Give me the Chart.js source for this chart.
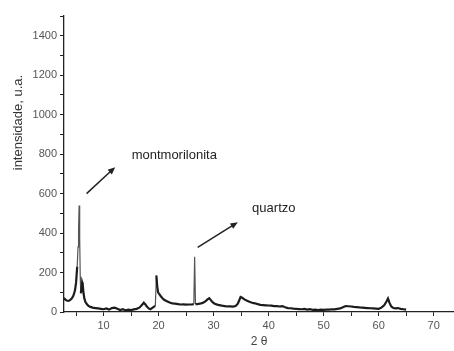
<!DOCTYPE html>
<html lang="pt">
<head>
    <meta charset="UTF-8">
    <title>DRX</title>
    <style>
        html, body { margin: 0; padding: 0; background: #fff; }
        #wrap { width: 454px; height: 351px; position: relative; }
    </style>
</head>
<body>
    <div id="wrap">
        <canvas id="myChart"></canvas>
    </div>

    <script src="https://cdn.jsdelivr.net/npm/chart.js"></script>

    <script>
        // 2 theta (graus) e intensidade
        let twoTheta = [
            2.8, 3.0, 3.3, 3.6, 3.9, 4.2, 4.5, 4.8, 5.0, 5.2, 5.35, 5.45, 5.55, 5.65, 5.75, 5.85, 5.95, 6.1, 6.2, 6.35,
            6.5, 6.7, 7.0, 7.3, 7.6, 8.0, 8.5, 9.0, 9.5, 10.0, 10.5, 11.0, 11.5, 12.0, 12.5, 13.0, 13.5, 14.0, 14.5, 15.0,
            15.5, 16.0, 16.5, 17.0, 17.3, 17.6, 17.9, 18.2, 18.5, 18.8, 19.1, 19.4, 19.6, 19.75, 19.9, 20.1, 20.4, 20.7, 21.0, 21.5,
            22.0, 22.5, 23.0, 23.5, 24.0, 24.5, 25.0, 25.5, 26.0, 26.4, 26.55, 26.7, 27.0, 27.5, 28.0, 28.5, 28.9, 29.2, 29.5, 29.8,
            30.2, 30.8, 31.5, 32.0, 32.5, 33.0, 33.5, 34.0, 34.4, 34.7, 34.9, 35.2, 35.6, 36.0, 36.5, 37.0, 37.5, 38.0, 38.5, 39.0,
            39.5, 40.0, 40.5, 41.0, 41.5, 42.0, 42.5, 43.0, 43.5, 44.0, 44.5, 45.0, 45.5, 46.0, 46.5, 47.0, 47.5, 48.0, 48.5, 49.0,
            49.5, 50.0, 50.5, 51.0, 51.5, 52.0, 52.5, 53.0, 53.5, 54.0, 54.5, 55.0, 55.5, 56.0, 56.5, 57.0, 57.5, 58.0, 58.5, 59.0,
            59.5, 60.0, 60.5, 61.0, 61.4, 61.7, 62.0, 62.3, 62.7, 63.0, 63.5, 64.0, 64.5, 65.0
        ];
        let intensidade = [
            72, 64, 58, 56, 60, 68, 82, 110, 150, 230, 330, 420, 540, 380, 180, 95, 110, 150, 140, 95,
            68, 50, 38, 30, 26, 22, 20, 18, 16, 14, 18, 12, 20, 22, 16, 10, 14, 8, 12, 10,
            13, 16, 22, 36, 47, 38, 26, 18, 14, 20, 26, 30, 185, 130, 100, 92, 80, 70, 62, 55,
            48, 44, 42, 40, 38, 39, 37, 38, 38, 40, 280, 40, 40, 42, 46, 54, 64, 70, 60, 50,
            42, 36, 32, 30, 28, 28, 27, 30, 42, 62, 76, 72, 64, 58, 52, 47, 44, 40, 36, 35,
            34, 33, 32, 30, 30, 28, 30, 24, 20, 19, 17, 16, 15, 14, 16, 12, 14, 11, 12, 10,
            12, 11, 12, 12, 14, 13, 16, 18, 24, 30, 29, 28, 26, 25, 23, 22, 21, 20, 19, 18,
            17, 16, 22, 34, 52, 68, 45, 28, 20, 18, 20, 16, 14, 12
        ];

        let xTicks = [10, 20, 30, 40, 50, 60, 70];
        let yTicks = [0, 200, 400, 600, 800, 1000, 1200, 1400];

        // anotações (em coordenadas dos dados)
        let labelTexts = ['montmorilonita', 'quartzo'];
        let labelAt = [[15.1, 793], [37.0, 525]];
        let arrowFrom = [[6.9, 600], [27.1, 328]];
        let arrowTo = [[12.1, 734], [34.4, 455]];

        let points = [];
        for (let i = 0; i < twoTheta.length; i++) {
            points.push({ x: twoTheta[i], y: intensidade[i] });
        }

        // os picos estreitos aparecem mais finos e claros no original
        function steep(c) {
            return Math.abs(c.p1.parsed.y - c.p0.parsed.y) > 80;
        }

        const annotations = {
            id: 'annotations',
            afterDraw(chart) {
                const ctx = chart.ctx;
                const sx = chart.scales.x;
                const sy = chart.scales.y;
                ctx.save();

                // setas
                ctx.strokeStyle = '#222';
                ctx.fillStyle = '#222';
                ctx.lineWidth = 1.5;
                for (let i = 0; i < arrowFrom.length; i++) {
                    let x1 = sx.getPixelForValue(arrowFrom[i][0]);
                    let y1 = sy.getPixelForValue(arrowFrom[i][1]);
                    let x2 = sx.getPixelForValue(arrowTo[i][0]);
                    let y2 = sy.getPixelForValue(arrowTo[i][1]);
                    let ang = Math.atan2(y2 - y1, x2 - x1);
                    ctx.beginPath();
                    ctx.moveTo(x1, y1);
                    ctx.lineTo(x2 - 5 * Math.cos(ang), y2 - 5 * Math.sin(ang));
                    ctx.stroke();
                    ctx.beginPath();
                    ctx.moveTo(x2, y2);
                    ctx.lineTo(x2 - 8 * Math.cos(ang - 0.4), y2 - 8 * Math.sin(ang - 0.4));
                    ctx.lineTo(x2 - 8 * Math.cos(ang + 0.4), y2 - 8 * Math.sin(ang + 0.4));
                    ctx.closePath();
                    ctx.fill();
                }

                // textos
                ctx.font = '13px "Liberation Sans", Arial, sans-serif';
                ctx.textAlign = 'left';
                ctx.textBaseline = 'middle';
                for (let i = 0; i < labelTexts.length; i++) {
                    ctx.fillText(labelTexts[i], sx.getPixelForValue(labelAt[i][0]), sy.getPixelForValue(labelAt[i][1]));
                }

                // titulo do eixo y (fica acima do centro, como no original)
                ctx.fillStyle = '#333';
                ctx.font = '13px "Liberation Sans", Arial, sans-serif';
                ctx.textAlign = 'center';
                ctx.translate(18, sy.getPixelForValue(960));
                ctx.rotate(-Math.PI / 2);
                ctx.fillText('intensidade, u.a.', 0, 0);
                ctx.restore();
            }
        };

        const ctx = document.getElementById('myChart');

        let options = {
            responsive: true,
            maintainAspectRatio: false,
            animation: false,
            layout: {
                padding: { left: 0, right: 0, top: 16, bottom: 0 }
            },
            plugins: {
                legend: { display: false },
                tooltip: { enabled: false }
            },
            scales: {
                x: {
                    type: 'linear',
                    min: 2.8,
                    max: 73.7,
                    afterFit: (s) => { s.height = 39; },
                    border: { display: true, color: '#222', width: 1.3 },
                    grid: { drawOnChartArea: false, drawTicks: true, tickLength: 4, color: '#222' },
                    ticks: {
                        stepSize: 5,
                        includeBounds: false,
                        autoSkip: false,
                        maxRotation: 0,
                        padding: 3,
                        color: '#555',
                        font: { family: '"Liberation Sans", Arial, sans-serif', size: 11 },
                        callback: (v) => xTicks.includes(v) ? String(v) : ''
                    },
                    title: {
                        display: true,
                        text: '2 θ',
                        color: '#444',
                        font: { family: '"Liberation Sans", Arial, sans-serif', size: 12 },
                        padding: { top: 0, bottom: 2 }
                    }
                },
                y: {
                    min: 0,
                    max: 1500,
                    afterFit: (s) => { s.width = 64; },
                    border: { display: true, color: '#222', width: 1.3 },
                    grid: { drawOnChartArea: false, drawTicks: true, tickLength: 4, color: '#222' },
                    ticks: {
                        stepSize: 100,
                        autoSkip: false,
                        padding: 3,
                        color: '#555',
                        font: { family: '"Liberation Sans", Arial, sans-serif', size: 11 },
                        callback: (v) => yTicks.includes(v) ? String(v) : ''
                    }
                }
            }
        };

        let datasets = [
            {
                label: 'DRX',
                data: points,
                borderColor: '#1c1c1c',
                borderWidth: 2.2,
                pointRadius: 0,
                tension: 0,
                segment: {
                    borderWidth: (c) => steep(c) ? 1.2 : 2.2,
                    borderColor: (c) => steep(c) ? '#555' : '#1c1c1c'
                }
            }
        ];

        let chart = new Chart(ctx, {
            type: 'line',
            data: { datasets: datasets },
            options: options,
            plugins: [annotations]
        });
    </script>
</body>
</html>
